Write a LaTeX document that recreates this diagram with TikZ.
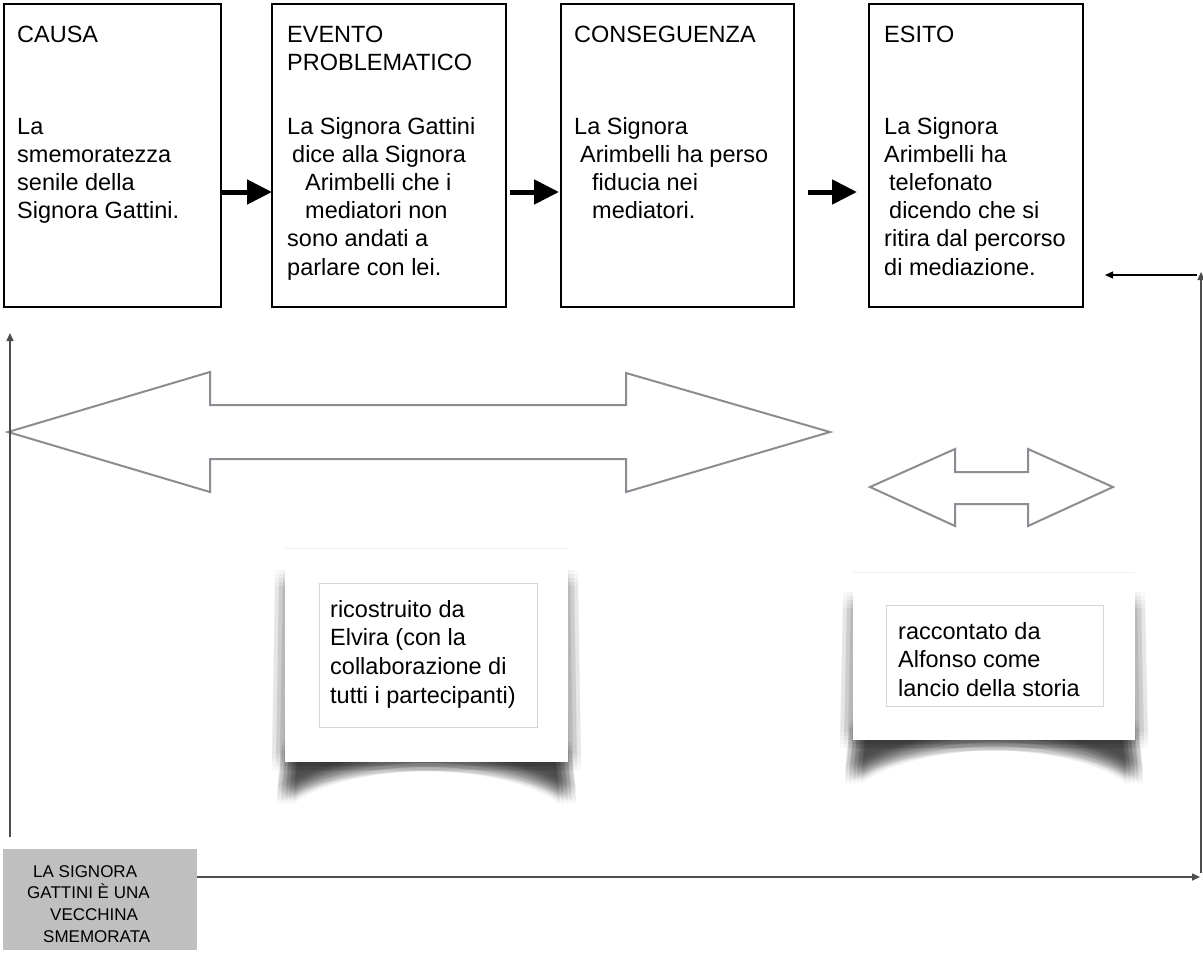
\documentclass[tikz,border=0pt]{standalone}
\usepackage{fontspec}
\setmainfont{Liberation Sans}
\usetikzlibrary{arrows.meta,calc}
\definecolor{linegray}{HTML}{4D4D4D}
\definecolor{arrowgray}{HTML}{8A8D91}
\definecolor{boxgray}{HTML}{BFBFBF}
\definecolor{innergray}{HTML}{D6D6D6}
\begin{document}
\begin{tikzpicture}[x=1pt,y=-1pt,
  cbox/.style={draw=black, line width=2.5pt, fill=white, inner sep=0pt, outer sep=0pt},
  btext/.style={anchor=base west, inner sep=0pt, font=\fontsize{23.5}{28.2}\selectfont},
  ntext/.style={anchor=base west, inner sep=0pt, font=\fontsize{23.5}{28.8}\selectfont},
  gtext/.style={anchor=base west, inner sep=0pt, font=\fontsize{17}{21.7}\selectfont},
  flowarrow/.style={line width=5pt, -{Triangle[length=25pt,width=24pt]}},
  thinline/.style={draw=linegray, line width=1.5pt, -{Triangle[length=8pt,width=7pt]}},
  dblarrow/.style={draw=arrowgray, line width=2pt, fill=white, line join=miter},
  panel/.style={fill=white, draw=none},
  innerbox/.style={draw=innergray, line width=1pt, fill=white}
]
\useasboundingbox (0,0) rectangle (1203,954);
\fill[white] (0,0) rectangle (1203,954);

% top boxes
\node[cbox, minimum width=217pt, minimum height=303pt] (b1) at (112.5,155.5) {};
\node[cbox, minimum width=234pt, minimum height=303pt] (b2) at (389,155.5) {};
\node[cbox, minimum width=233pt, minimum height=303pt] (b3) at (677.5,155.5) {};
\node[cbox, minimum width=214pt, minimum height=303pt] (b4) at (976,155.5) {};

\node[btext] (t1) at (17,42) {\parbox[t]{230pt}{CAUSA\\[63.8pt]La\\smemoratezza\\senile della\\Signora Gattini.}};
\node[btext] (t2) at (287,42) {\parbox[t]{230pt}{EVENTO\\PROBLEMATICO\\[35.6pt]La Signora Gattini\\\hspace*{5pt}dice alla Signora\\\hspace*{18pt}Arimbelli che i\\\hspace*{18pt}mediatori non\\sono andati a\\parlare con lei.}};
\node[btext] (t3) at (574,42) {\parbox[t]{230pt}{CONSEGUENZA\\[63.8pt]La Signora\\\hspace*{6pt}Arimbelli ha perso\\\hspace*{18pt}fiducia nei\\\hspace*{18pt}mediatori.}};
\node[btext] (t4) at (884,42) {\parbox[t]{230pt}{ESITO\\[63.8pt]La Signora\\Arimbelli ha\\\hspace*{5pt}telefonato\\\hspace*{5pt}dicendo che si\\ritira dal percorso\\di mediazione.}};

% flow arrows
\coordinate (ay) at (0,192);
\draw[flowarrow] (b1.east |- ay) -- (b2.west |- ay);
\draw[flowarrow] ([xshift=4pt]b2.east |- ay) -- ([xshift=-2pt]b3.west |- ay);
\draw[flowarrow] ([xshift=14pt]b3.east |- ay) -- ([xshift=-12pt]b4.west |- ay);

% big double arrow
\draw[dblarrow] (8,432) -- (210,372) -- (210,405) -- (626,405) -- (626,373) -- (830,432)
  -- (626,492) -- (626,459) -- (210,459) -- (210,492) -- cycle;
% small double arrow
\draw[dblarrow] (870,487) -- (955,449) -- (955,472) -- (1028,472) -- (1028,449) -- (1113,487)
  -- (1028,526) -- (1028,504) -- (955,504) -- (955,526) -- cycle;

% note 1 shadows (box blur by shifted copies)
\foreach \dx in {-8,-4,0,4,8}
  \foreach \dy in {-8,-4,0,4,8} {
    \fill[black, opacity=0.018, shift={(\dx,\dy)}] (283,578) -- (570,578) -- (573,762) -- (280,762) -- cycle;
    \fill[black, opacity=0.045, shift={(\dx,\dy)}] (290,750) -- (563,750) -- (568,796) .. controls (510,752) and (343,752) .. (285,796) -- cycle;
  }
\fill[panel] (285,548) rectangle (568,762);
\draw[black!6, line width=1pt] (285,548) -- (568,548);
\node[innerbox, minimum width=218pt, minimum height=144pt, inner sep=0pt] (n1) at (428,655) {};
\node[ntext] (n1t) at (330,617) {\parbox[t]{210pt}{ricostruito da\\Elvira (con la\\collaborazione di\\tutti i partecipanti)}};

% note 2 shadows
\foreach \dx in {-8,-4,0,4,8}
  \foreach \dy in {-8,-4,0,4,8} {
    \fill[black, opacity=0.018, shift={(\dx,\dy)}] (851,600) -- (1137,600) -- (1140,740) -- (848,740) -- cycle;
    \fill[black, opacity=0.045, shift={(\dx,\dy)}] (858,728) -- (1130,728) -- (1135,776) .. controls (1075,731) and (913,731) .. (853,776) -- cycle;
  }
\fill[panel] (853,572) rectangle (1135,740);
\draw[black!6, line width=1pt] (853,572) -- (1135,572);
\node[innerbox, minimum width=217pt, minimum height=101pt, inner sep=0pt] (n2) at (994.5,655.5) {};
\node[ntext] (n2t) at (898,639) {\parbox[t]{200pt}{raccontato da\\Alfonso come\\lancio della storia}};

% grey box
\node[fill=boxgray, minimum width=194pt, minimum height=101pt, inner sep=0pt] (gb) at (100,899.5) {};
\node[gtext] (gt) at (27,877) {\parbox[t]{165pt}{\hspace*{6pt}LA SIGNORA\\GATTINI È UNA\\\hspace*{23pt}VECCHINA\\\hspace*{16pt}SMEMORATA}};

% connector lines
\coordinate (lb) at (10,837);
\coordinate (lt) at (10,333);
\coordinate (bl) at (0,877);
\coordinate (br) at (1200,877);
\coordinate (rb) at (1201,873);
\coordinate (rt) at (1201,272);
\coordinate (sr) at (1197,275);
\coordinate (sl) at (1105,275);
\draw[thinline] (lb) -- (lt);
\draw[thinline] (gb.east |- bl) -- (br);
\draw[thinline] (rb) -- (rt);
\draw[thinline, draw=black, line width=1.2pt] (sr) -- (sl);
\end{tikzpicture}
\end{document}
